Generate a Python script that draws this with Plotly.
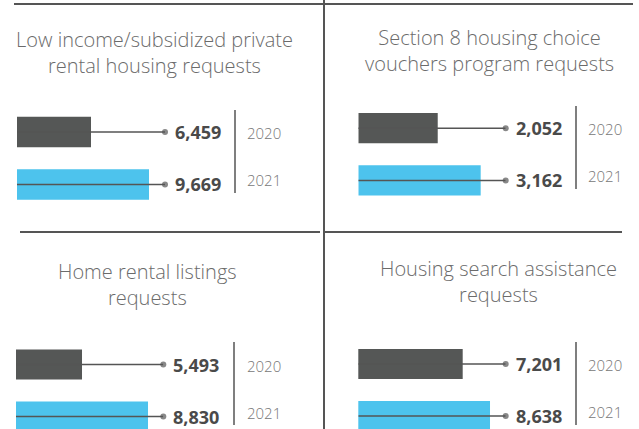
import plotly.graph_objects as go

# data
titles = [
    "Low income/subsidized private<br>rental housing requests",
    "Section 8 housing choice<br>vouchers program requests",
    "Home rental listings<br>requests",
    "Housing search assistance<br>requests",
]
years = ["2020", "2021"]
values_2020 = [6459, 2052, 5493, 7201]
values_2021 = [9669, 3162, 8830, 8638]

W, H = 639, 429
DARK = "#555756"
BLUE = "#4dc3ed"
LINE = "#555555"
LIGHT_FONT = dict(family="Open Sans", weight=300)


def px(x):
    return x / W


def py(y):
    return 1 - y / H


# panel geometry in pixels: bar start, dot x, y domain top/bottom, y range,
# x range, title centre, divider x, divider y0/y1, year label x
panels = [
    dict(x0=17, x1=165, yt=105.7, yb=210.7, yr=[1.5, -0.5], xr=[2364, 10554],
         tx=154, ty=52.5, dx=235, dy0=110, dy1=193, yx=245),
    dict(x0=358.3, x1=505.7, yt=102, yb=206.6, yr=[1.5, -0.5], xr=[0, 3808],
         tx=489.5, ty=51, dx=576, dy0=106, dy1=189, yx=586),
    dict(x0=16, x1=163.3, yt=338.5, yb=429, yr=[1.24, -0.5], xr=[2156, 9603],
         tx=147.5, ty=284, dx=234, dy0=342, dy1=425, yx=245),
    dict(x0=358.3, x1=505.7, yt=338, yb=429, yr=[1.25, -0.5], xr=[1706, 9464],
         tx=498, ty=281, dx=576, dy0=342, dy1=425, yx=586),
]

fig = go.Figure()
layout = dict(
    width=W, height=H, margin=dict(l=0, r=0, t=0, b=0),
    paper_bgcolor="white", plot_bgcolor="rgba(0,0,0,0)",
    showlegend=False, barmode="overlay",
)
annotations = []
shapes = []

for i, p in enumerate(panels):
    n = "" if i == 0 else str(i + 1)
    xa, ya = "x" + n, "y" + n
    vals = [values_2020[i], values_2021[i]]
    fig.add_trace(go.Bar(
        x=vals, y=years, orientation="h", xaxis=xa, yaxis=ya,
        marker=dict(color=[DARK, BLUE], line=dict(width=0)), width=0.58,
        hoverinfo="x+y",
    ))
    lo, hi = p["xr"]
    for j, yr in enumerate(years):
        fig.add_trace(go.Scatter(
            x=[lo, hi], y=[yr, yr], xaxis=xa, yaxis=ya, mode="lines+markers",
            line=dict(color=LINE, width=1.5),
            marker=dict(size=[0, 6], color=LINE, line=dict(width=0)),
            cliponaxis=False, hoverinfo="skip",
        ))
        annotations.append(dict(
            xref=xa + " domain", x=1, xshift=8, xanchor="left",
            yref=ya, y=j, yanchor="middle", showarrow=False,
            text=f"<b>{vals[j]:,}</b>",
            font=dict(family="Open Sans", size=18, color="#4a4a4a"),
        ))
        annotations.append(dict(
            xref="paper", x=px(p["yx"]), xanchor="left",
            yref=ya, y=j, yanchor="middle", yshift=-1 if j == 0 else 4,
            showarrow=False, text=yr,
            font=dict(size=15, color="#777777", **LIGHT_FONT),
        ))
    annotations.append(dict(
        xref="paper", yref="paper", x=px(p["tx"]), y=py(p["ty"]),
        xanchor="center", yanchor="middle", showarrow=False, align="center",
        text=titles[i], font=dict(size=20, color="#6b6b6b", **LIGHT_FONT),
    ))
    shapes.append(dict(
        type="line", xref="paper", yref="paper",
        x0=px(p["dx"]), x1=px(p["dx"]), y0=py(p["dy0"]), y1=py(p["dy1"]),
        line=dict(color=LINE, width=1.5),
    ))
    layout["xaxis" + n] = dict(domain=[px(p["x0"]), px(p["x1"])], range=p["xr"],
                               anchor=ya, visible=False, fixedrange=True)
    layout["yaxis" + n] = dict(domain=[py(p["yb"]), py(p["yt"])], range=p["yr"],
                               type="category", anchor=xa, visible=False,
                               fixedrange=True)

# frame lines
frame = [
    (14, 4, 633, 4),
    (324, 0, 324, 429),
    (20, 232, 320, 232),
    (324, 232, 622, 232),
]
for x0, y0, x1, y1 in frame:
    shapes.append(dict(type="line", xref="paper", yref="paper",
                       x0=px(x0), y0=py(y0), x1=px(x1), y1=py(y1),
                       line=dict(color=LINE, width=2)))

layout["annotations"] = annotations
layout["shapes"] = shapes
fig.update_layout(**layout)

fig.write_html("out.html", config={"displayModeBar": False},
               post_script="document.body.style.margin='0';")
